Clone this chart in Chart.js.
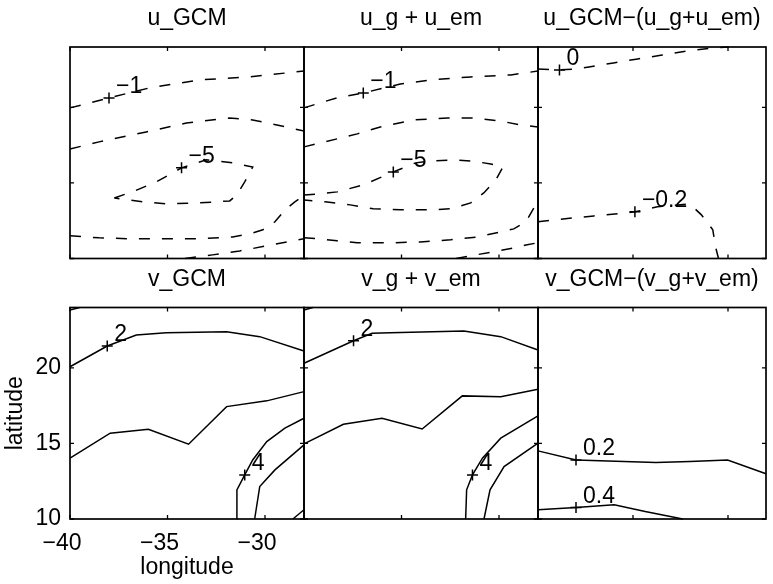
<!DOCTYPE html>
<html><head><meta charset="utf-8">
<script src="https://cdn.jsdelivr.net/npm/chart.js@4.4.1/dist/chart.umd.min.js"></script>
<style>
html,body{margin:0;padding:0;background:#fff;}
#wrap{position:relative;width:773px;height:584px;overflow:hidden;background:#fff;}
#wrap canvas{position:absolute;left:0;top:0;}
</style></head><body>
<div id="wrap">
<canvas id="p0" width="773" height="584"></canvas>
<canvas id="p1" width="773" height="584"></canvas>
<canvas id="p2" width="773" height="584"></canvas>
<canvas id="p3" width="773" height="584"></canvas>
<canvas id="p4" width="773" height="584"></canvas>
<canvas id="p5" width="773" height="584"></canvas>
</div>
<script>
// ---------- data ----------
const lonRange = [-40, -28];
const latRange = [10, 24];
const lonTicks = [-40, -35, -30];
const latTicks = [10, 15, 20];
const lonTickLabels = ['\u221240', '\u221235', '\u221230'];
const latTickLabels = ['10', '15', '20'];
const panelTitles = ['u_GCM', 'u_g + u_em', 'u_GCM\u2212(u_g+u_em)', 'v_GCM', 'v_g + v_em', 'v_GCM\u2212(v_g+v_em)'];
const axisTitleX = 'longitude';
const axisTitleY = 'latitude';

// u_GCM contours [lon, lat]
const uGCM_c1 = [[-40,19.97],[-38.0,20.63],[-35.93,21.29],[-33.36,21.82],[-30.78,22.02],[-28,22.41]];
const uGCM_c2 = [[-40,17.25],[-38.51,17.72],[-36.09,18.38],[-34.03,18.97],[-31.81,19.30],[-30.63,19.17],[-29.39,18.84],[-28,18.44]];
const uGCM_c3 = [[-37.73,14.01],[-36.81,14.41],[-35.57,15.07],[-34.28,16.0],[-33.0,16.53],[-31.66,16.33],[-30.63,16.06],[-31.04,15.07],[-31.45,14.21],[-31.81,13.81],[-33.36,13.68],[-35.06,13.62],[-36.29,13.75],[-37.73,14.01]];
const uGCM_c4 = [[-40,11.5],[-38.51,11.37],[-36.81,11.30],[-35.06,11.30],[-33.36,11.30],[-31.66,11.43],[-30.78,11.63],[-30.11,11.9],[-29.49,12.43],[-28.98,13.22],[-28.47,13.75],[-28,14.15]];
const uGCM_c5 = [[-34.1,10],[-32.69,10.24],[-31.3,10.5],[-29.91,10.84],[-28.57,11.17],[-28,11.3]];
const uGCM_labelPts = [[-38.0,20.63],[-34.28,16.0]];
const uGCM_labelText = ['\u22121', '\u22125'];

// u_g + u_em contours
const uSum_c1 = [[-40,19.97],[-39.18,20.30],[-38.3,20.63],[-36.96,20.96],[-35.06,21.55],[-33.51,21.82],[-31.45,22.02],[-29.39,22.15],[-28,22.41]];
const uSum_c2 = [[-40,17.39],[-39.18,17.65],[-38.3,17.92],[-37.27,18.25],[-36.09,18.71],[-34.39,19.17],[-32.64,19.30],[-31.3,19.30],[-29.91,19.1],[-28.93,18.84],[-28,18.71]];
const uSum_c3 = [[-40,14.21],[-39.18,14.28],[-38.3,14.41],[-36.96,14.87],[-35.42,15.73],[-34.28,16.33],[-33.51,16.46],[-32.33,16.53],[-31.45,16.46],[-30.42,16.26],[-29.8,16.06],[-30.16,15.2],[-30.78,14.34],[-31.45,13.68],[-32.48,13.29],[-33.51,13.22],[-35.06,13.22],[-36.45,13.29],[-37.63,13.55],[-38.92,13.75],[-40,13.88]];
const uSum_c4 = [[-40,11.37],[-39.18,11.30],[-38.3,11.17],[-37.27,11.04],[-35.57,11.04],[-34.03,11.1],[-32.48,11.24],[-31.09,11.43],[-29.91,11.76],[-29.24,11.96],[-28.62,12.43],[-28.21,13.35],[-28,13.88]];
const uSum_c5 = [[-32.2,10],[-31.19,10.24],[-30.27,10.44],[-29.24,10.7],[-28.62,10.9],[-28,11.04]];
const uSum_labelPts = [[-36.96,20.96],[-35.42,15.73]];
const uSum_labelText = ['\u22121', '\u22125'];

// u difference contours
const uDiff_c1 = [[-40,22.55],[-38.87,22.48],[-37.94,22.55],[-37.32,22.68],[-36.03,22.94],[-34.75,23.21],[-33.46,23.47],[-32.17,23.74],[-30.89,23.93],[-29.96,24]];
const uDiff_c2 = [[-40,12.43],[-39.12,12.56],[-38.09,12.69],[-37.06,12.82],[-35.78,12.96],[-34.9,13.09],[-33.72,13.42],[-32.02,13.62],[-31.4,12.89],[-30.8,11.9],[-30.66,10.79],[-30.5,10]];
const uDiff_labelPts = [[-38.87,22.48],[-34.9,13.09]];
const uDiff_labelText = ['0', '\u22120.2'];

// v_GCM contours
const vGCM_c0 = [[-40,23.83],[-39.5,24]];
const vGCM_c1 = [[-40,20.08],[-38.09,21.45],[-36.6,22.18],[-35.06,22.33],[-31.97,22.4],[-30.27,22.07],[-28,21.12]];
const vGCM_c2 = [[-40,14.03],[-37.94,15.68],[-35.98,15.94],[-33.92,14.95],[-31.97,17.44],[-29.91,17.82],[-28,18.43]];
const vGCM_c3 = [[-31.45,10],[-31.44,11.93],[-31.04,12.92],[-30.63,13.91],[-29.91,15.12],[-28.98,16.01],[-28,16.67]];
const vGCM_c4 = [[-30.53,10],[-30.27,12.15],[-29.49,13.25],[-28,14.91]];
const vGCM_c5 = [[-28.57,10],[-28,10.61]];
const vGCM_labelPts = [[-38.09,21.45],[-31.04,12.92]];
const vGCM_labelText = ['2', '4'];

// v_g + v_em contours
const vSum_c0 = [[-40,23.83],[-39.55,24]];
const vSum_c1 = [[-40,20.31],[-37.46,21.8],[-36.51,22.29],[-35.57,22.33],[-31.8,22.45],[-29.91,22.07],[-28,21.19]];
const vSum_c2 = [[-40,14.97],[-37.98,16.27],[-36.0,16.67],[-33.94,15.96],[-31.88,18.15],[-29.91,18.1],[-28,18.59]];
const vSum_c3 = [[-31.71,10],[-31.66,11.93],[-31.36,12.92],[-30.85,14.03],[-29.91,15.35],[-28,16.82]];
const vSum_c4 = [[-30.77,10],[-30.46,11.93],[-29.74,13.47],[-28,15.02]];
const vSum_labelPts = [[-37.46,21.8],[-31.36,12.92]];
const vSum_labelText = ['2', '4'];

// v difference contours
const vDiff_c1 = [[-40,14.51],[-38.0,13.91],[-33.8,13.74],[-32.0,13.8],[-30.02,13.91],[-28,12.99]];
const vDiff_c2 = [[-40,10.61],[-38.0,10.76],[-35.99,10.94],[-34.36,10.5],[-32.38,10.0]];
const vDiff_labelPts = [[-38.0,13.91],[-38.0,10.76]];
const vDiff_labelText = ['0.2', '0.4'];

// ---------- layout / style ----------
const FONT = '"Liberation Sans", Arial, Helvetica, sans-serif';
const FS = 23;
const LW = 1.5;
const colX = [70, 304, 538, 772];
const rowY = [[47, 258.5], [307.5, 519]];
const W = 773, H = 584;

const panels = [
  {id:'p0', col:0, row:0, dashed:true,  contours:[uGCM_c1,uGCM_c2,uGCM_c3,uGCM_c4,uGCM_c5], lp:uGCM_labelPts, lt:uGCM_labelText},
  {id:'p1', col:1, row:0, dashed:true,  contours:[uSum_c1,uSum_c2,uSum_c3,uSum_c4,uSum_c5], lp:uSum_labelPts, lt:uSum_labelText},
  {id:'p2', col:2, row:0, dashed:true,  contours:[uDiff_c1,uDiff_c2], lp:uDiff_labelPts, lt:uDiff_labelText},
  {id:'p3', col:0, row:1, dashed:false, contours:[vGCM_c0,vGCM_c1,vGCM_c2,vGCM_c3,vGCM_c4,vGCM_c5], lp:vGCM_labelPts, lt:vGCM_labelText, axes:true},
  {id:'p4', col:1, row:1, dashed:false, contours:[vSum_c0,vSum_c1,vSum_c2,vSum_c3,vSum_c4], lp:vSum_labelPts, lt:vSum_labelText},
  {id:'p5', col:2, row:1, dashed:false, contours:[vDiff_c1,vDiff_c2], lp:vDiff_labelPts, lt:vDiff_labelText}
];

function makePlugin(title, lp, lt) {
  return {
    id: 'panelDeco',
    afterDatasetsDraw(chart) {
      const {ctx, chartArea: a, scales: {x, y}} = chart;
      ctx.save();
      ctx.strokeStyle = '#000';
      ctx.lineWidth = 1.3;
      ctx.beginPath();
      lonTicks.forEach(v => {
        const px = x.getPixelForValue(v);
        ctx.moveTo(px, a.bottom); ctx.lineTo(px, a.bottom - 4);
        ctx.moveTo(px, a.top); ctx.lineTo(px, a.top + 4);
      });
      latTicks.forEach(v => {
        const py = y.getPixelForValue(v);
        ctx.moveTo(a.left, py); ctx.lineTo(a.left + 4, py);
        ctx.moveTo(a.right, py); ctx.lineTo(a.right - 4, py);
      });
      ctx.stroke();
      ctx.lineWidth = 1.7;
      ctx.strokeRect(a.left, a.top, a.right - a.left, a.bottom - a.top);
      ctx.fillStyle = '#000';
      ctx.font = FS + 'px ' + FONT;
      ctx.textAlign = 'center';
      ctx.textBaseline = 'middle';
      ctx.fillText(title, (a.left + a.right) / 2, a.top - 28);
      ctx.textAlign = 'left';
      ctx.textBaseline = 'alphabetic';
      lp.forEach((p, i) => {
        ctx.fillText(lt[i], x.getPixelForValue(p[0]) + 7, y.getPixelForValue(p[1]) - 5);
      });
      ctx.restore();
    }
  };
}

panels.forEach((p, idx) => {
  const x0 = colX[p.col], x1 = colX[p.col + 1];
  const y0 = rowY[p.row][0], y1 = rowY[p.row][1];
  const datasets = p.contours.map(c => ({
    data: c.map(q => ({x: q[0], y: q[1]})),
    showLine: true, fill: false, tension: 0,
    borderColor: '#000', borderWidth: LW,
    borderDash: p.dashed ? [11, 12] : [],
    pointRadius: 0, pointHoverRadius: 0, clip: 1
  }));
  datasets.push({
    data: p.lp.map(q => ({x: q[0], y: q[1]})),
    showLine: false, pointStyle: 'cross', pointRadius: 5.5, pointHoverRadius: 5.5,
    pointBorderColor: '#000', pointBorderWidth: LW, borderColor: '#000', clip: false
  });
  const tickFont = {family: FONT, size: FS};
  let scales, padding;
  if (p.axes) {
    padding = {left: 0, top: y0, right: W - x1, bottom: 0};
    scales = {
      x: {
        type: 'linear', min: lonRange[0], max: lonRange[1], position: 'bottom',
        grid: {display: false, drawTicks: false}, border: {display: false},
        afterBuildTicks: s => { s.ticks = lonTicks.map(v => ({value: v})); },
        afterFit: s => { s.height = H - y1; },
        ticks: {autoSkip: false, maxRotation: 0, minRotation: 0, color: '#000', font: tickFont,
                padding: 11, labelOffset: -8, callback: (v, i) => lonTickLabels[i]},
        title: {display: true, text: axisTitleX, color: '#000', font: tickFont, padding: {top: 0, bottom: 3}}
      },
      y: {
        type: 'linear', min: latRange[0], max: latRange[1], position: 'left',
        grid: {display: false, drawTicks: false}, border: {display: false},
        afterBuildTicks: s => { s.ticks = latTicks.map(v => ({value: v})); },
        afterFit: s => { s.width = x0; },
        ticks: {autoSkip: false, color: '#000', font: tickFont, padding: 9,
                callback: (v, i) => latTickLabels[i]},
        title: {display: true, text: axisTitleY, color: '#000', font: tickFont, padding: {top: 2, bottom: 0}}
      }
    };
  } else {
    padding = {left: x0, top: y0, right: W - x1, bottom: H - y1};
    scales = {
      x: {type: 'linear', min: lonRange[0], max: lonRange[1], display: false},
      y: {type: 'linear', min: latRange[0], max: latRange[1], display: false}
    };
  }
  new Chart(document.getElementById(p.id), {
    type: 'scatter',
    data: {datasets},
    options: {
      responsive: false, animation: false, devicePixelRatio: 1,
      layout: {padding},
      scales,
      plugins: {legend: {display: false}, tooltip: {enabled: false}, title: {display: false}},
      events: []
    },
    plugins: [makePlugin(panelTitles[idx], p.lp, p.lt)]
  });
});
</script>
</body></html>
